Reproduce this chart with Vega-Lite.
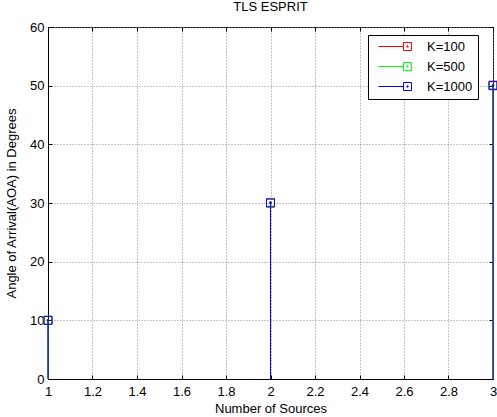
{
  "$schema": "https://vega.github.io/schema/vega-lite/v6.json",
  "width": 445,
  "height": 352,
  "autosize": {"type": "none"},
  "padding": {"left": 48, "top": 27, "right": 4, "bottom": 38},
  "background": "white",
  "title": {"text": "TLS ESPRIT", "fontSize": 13, "fontWeight": "normal", "font": "Liberation Sans", "offset": 7, "color": "black"},
  "data": {
    "values": [
      {"x": 1, "y": 10, "K": "K=100"},
      {"x": 2, "y": 30.1, "K": "K=100"},
      {"x": 3, "y": 50.1, "K": "K=100"},
      {"x": 1, "y": 10, "K": "K=500"},
      {"x": 2, "y": 30, "K": "K=500"},
      {"x": 3, "y": 50, "K": "K=500"},
      {"x": 1, "y": 10, "K": "K=1000"},
      {"x": 2, "y": 30, "K": "K=1000"},
      {"x": 3, "y": 50, "K": "K=1000"}
    ]
  },
  "config": {
    "font": "Liberation Sans",
    "view": {"stroke": "black", "strokeWidth": 1},
    "axis": {
      "labelFont": "Liberation Sans",
      "labelFontSize": 13,
      "labelColor": "black",
      "titleFont": "Liberation Sans",
      "titleFontSize": 13,
      "titleFontWeight": "normal",
      "titleColor": "black",
      "domainColor": "black",
      "tickColor": "black",
      "gridColor": "#8c8c8c",
      "gridDash": [1, 2],
      "gridWidth": 1,
      "gridOpacity": 1
    },
    "legend": {
      "labelFont": "Liberation Sans",
      "labelFontSize": 13,
      "labelColor": "black",
      "strokeColor": "black",
      "fillColor": "white"
    }
  },
  "encoding": {
    "color": {
      "field": "K",
      "type": "nominal",
      "sort": ["K=100", "K=500", "K=1000"],
      "scale": {"domain": ["K=100", "K=500", "K=1000"], "range": ["#ff0000", "#00ff00", "#0000ff"]},
      "legend": {
        "title": null,
        "orient": "none",
        "legendX": 320,
        "legendY": 8,
        "strokeColor": "black",
        "fillColor": "white",
        "padding": 5,
        "symbolType": "M-7.25,0H-1M-1,-1H1V1H-1ZM-0.15,-0.15H0.15V0.15H-0.15Z",
        "symbolSize": 64,
        "symbolStrokeWidth": 1,
        "symbolOpacity": 1,
        "symbolOffset": 28,
        "labelOffset": 13,
        "rowPadding": 6,
        "encode": {
          "legend": {"update": {"stroke": {"value": "black"}, "strokeWidth": {"value": 1}, "fill": {"value": "white"}}},
          "symbols": {"update": {"fill": {"value": "transparent"}, "fillOpacity": {"value": 0}, "strokeWidth": {"value": 1}}}
        }
      }
    }
  },
  "layer": [
    {
      "mark": {"type": "rule", "strokeWidth": 1},
      "encoding": {
        "x": {
          "field": "x", "type": "quantitative",
          "scale": {"domain": [1, 3], "nice": false, "zero": false},
          "axis": {"orient": "bottom", "title": "Number of Sources", "values": [1, 1.2, 1.4, 1.6, 1.8, 2, 2.2, 2.4, 2.6, 2.8, 3], "format": "~g", "grid": true, "tickSize": -4, "labelPadding": 10, "titlePadding": 4, "labelFlush": false}
        },
        "y": {
          "field": "y", "type": "quantitative",
          "scale": {"domain": [0, 60], "nice": false},
          "axis": {"orient": "left", "title": "Angle of Arrival(AOA) in Degrees", "values": [0, 10, 20, 30, 40, 50, 60], "grid": true, "tickSize": -4, "labelPadding": 8, "titlePadding": 11}
        },
        "y2": {"datum": 0}
      }
    },
    {
      "mark": {"type": "point", "shape": "square", "filled": false, "size": 64, "strokeWidth": 1, "opacity": 1},
      "encoding": {
        "x": {"field": "x", "type": "quantitative", "axis": {"orient": "top", "title": null, "labels": false, "grid": false, "domain": false, "tickSize": -4, "values": [1, 1.2, 1.4, 1.6, 1.8, 2, 2.2, 2.4, 2.6, 2.8, 3]}},
        "y": {"field": "y", "type": "quantitative", "axis": {"orient": "right", "title": null, "labels": false, "grid": false, "domain": false, "tickSize": -4, "values": [0, 10, 20, 30, 40, 50, 60]}}
      }
    },
    {
      "mark": {"type": "point", "shape": "square", "filled": false, "size": 2, "strokeWidth": 1, "opacity": 1},
      "encoding": {
        "x": {"field": "x", "type": "quantitative", "axis": null},
        "y": {"field": "y", "type": "quantitative", "axis": null}
      }
    }
  ],
  "resolve": {"axis": {"x": "independent", "y": "independent"}}
}
